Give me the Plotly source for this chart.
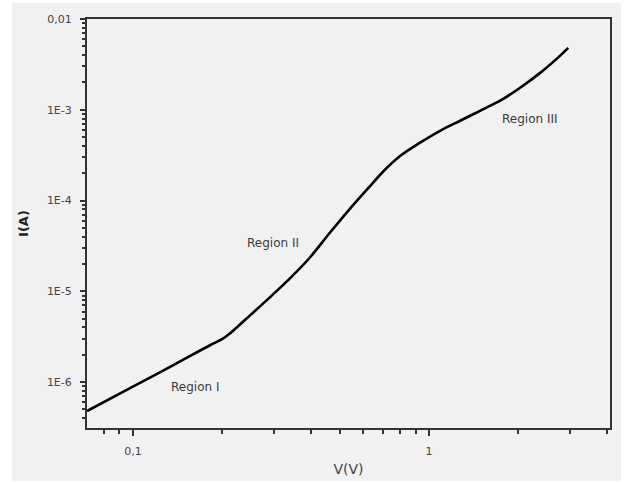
import math
import plotly.graph_objects as go

# Data (V in volts, I in amperes)
voltage = [0.070, 0.100, 0.140, 0.182, 0.200, 0.213, 0.248, 0.290, 0.339, 0.396,
           0.463, 0.541, 0.632, 0.700, 0.798, 0.932, 1.089, 1.273, 1.486, 1.738,
           2.029, 2.371, 2.771, 2.949]
current = [4.8e-7, 8.93e-7, 1.60e-6, 2.55e-6, 2.97e-6, 3.45e-6, 5.40e-6, 8.59e-6,
           1.39e-5, 2.36e-5, 4.45e-5, 8.17e-5, 1.445e-4, 2.09e-4, 3.09e-4, 4.34e-4,
           5.87e-4, 7.57e-4, 9.75e-4, 1.26e-3, 1.75e-3, 2.55e-3, 3.95e-3, 4.80e-3]

x_tickvals = [0.1, 1]
x_ticktext = ["0,1", "1"]
y_tickvals = [1e-6, 1e-5, 1e-4, 1e-3, 1e-2]
y_ticktext = ["1E-6", "1E-5", "1E-4", "1E-3", "0,01"]

region_labels = ["Region I", "Region II", "Region III"]
region_v = [0.162, 0.297, 2.19]
region_i = [8.8e-7, 3.37e-5, 7.96e-4]

x_minor = [0.08, 0.09, 0.2, 0.3, 0.4, 0.5, 0.6, 0.7, 0.8, 0.9, 2, 3, 4]
y_minor = []
for e in range(-7, -2):
    for m in range(2, 10):
        v = m * 10 ** e
        if 10 ** -6.505 <= v <= 1e-2:
            y_minor.append(v)

fig = go.Figure()
fig.add_trace(go.Scatter(x=voltage, y=current, mode="lines",
                         line=dict(color="black", width=2.6, shape="spline", smoothing=0.8),
                         showlegend=False, hoverinfo="skip"))

for lab, xv, yv in zip(region_labels, region_v, region_i):
    fig.add_annotation(x=math.log10(xv), y=math.log10(yv), xref="x", yref="y", text=lab,
                       showarrow=False, font=dict(family="DejaVu Sans", size=12, color="#3a3a3a"))

grey = "#f1f1f1"
fig.add_shape(type="rect", xref="paper", yref="paper", x0=-0.1434, x1=1.021, y0=-0.1296, y1=1.0391,
              fillcolor=grey, line=dict(width=0), layer="below")

axis_font = dict(family="DejaVu Sans", size=11, color="#444444")
fig.update_xaxes(type="log", range=[math.log10(0.07), math.log10(4.08)], automargin=False,
                 tickvals=x_tickvals, ticktext=x_ticktext, ticks="outside", ticklen=6, tickwidth=2,
                 tickcolor="#333333", showline=True, linecolor="#333333", linewidth=2, mirror=True,
                 showgrid=False, zeroline=False, tickfont=axis_font, ticklabelstandoff=6,
                 minor=dict(tickvals=x_minor, ticks="outside", ticklen=4, tickwidth=2,
                            tickcolor="#333333", showgrid=False),
                 title=dict(text="V(V)", font=dict(family="DejaVu Sans", size=14, color="#444444"), standoff=7))
fig.update_yaxes(type="log", range=[-6.505, -2], automargin=False,
                 tickvals=y_tickvals, ticktext=y_ticktext, ticks="outside", ticklen=5, tickwidth=2,
                 tickcolor="#333333", showline=True, linecolor="#333333", linewidth=2, mirror=True,
                 showgrid=False, zeroline=False, tickfont=axis_font, ticklabelstandoff=6,
                 minor=dict(tickvals=y_minor, ticks="outside", ticklen=3, tickwidth=2,
                            tickcolor="#333333", showgrid=False),
                 title=dict(text="<b>I(A)</b>", font=dict(family="DejaVu Sans", size=13, color="#222222"), standoff=15))

fig.update_layout(width=628, height=483, margin=dict(l=87, r=18, t=19, b=55),
                  paper_bgcolor="white", plot_bgcolor=grey)
fig.write_html("out.html")
